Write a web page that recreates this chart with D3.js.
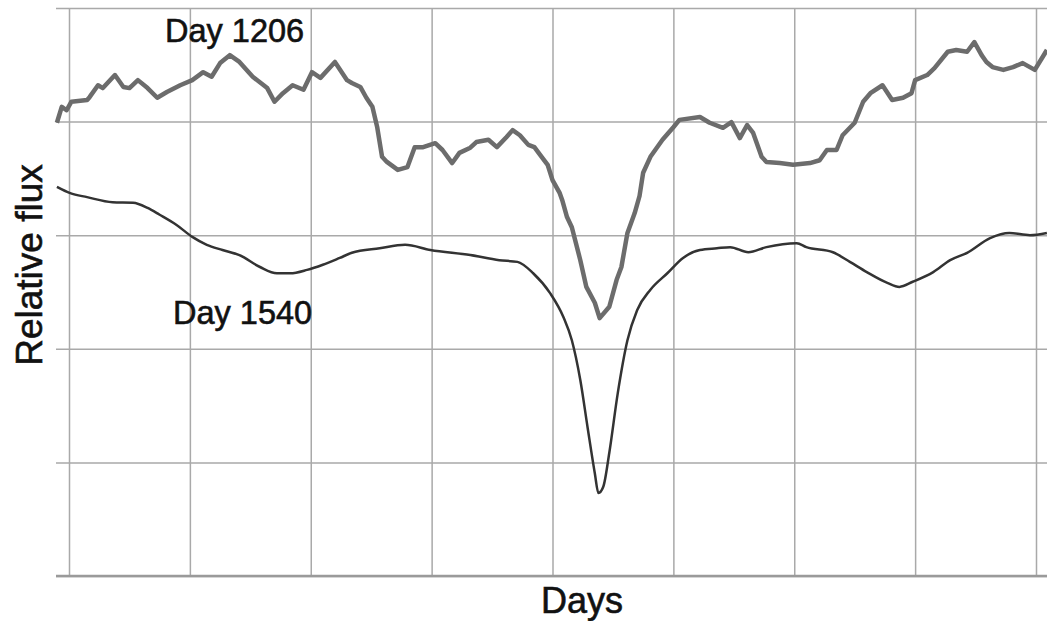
<!DOCTYPE html>
<html>
<head>
<meta charset="utf-8">
<script src="https://cdn.jsdelivr.net/npm/d3@7"></script>
<style>
  body { margin: 0; background: #fff; }
  text { font-family: "Liberation Sans", Arial, sans-serif; fill: #111; stroke: #111; stroke-width: 0.6px; }
</style>
</head>
<body>
<div class="chart"></div>
<script>
// days since start of the window, relative flux (arbitrary units, 0..1)
const day1206Days = [-0.10, -0.06, -0.02, 0.02, 0.15, 0.17, 0.24, 0.28, 0.38, 0.45, 0.50, 0.57, 0.65, 0.73, 0.81, 0.92,
    1.02, 1.11, 1.18, 1.25, 1.33, 1.41, 1.52, 1.64, 1.70, 1.77, 1.85, 1.94, 2.01, 2.08, 2.20, 2.30, 2.34, 2.41, 2.46,
    2.51, 2.55, 2.59, 2.63, 2.72, 2.80, 2.86, 2.93, 3.03, 3.09, 3.17, 3.23, 3.32, 3.37, 3.47, 3.54, 3.62, 3.67, 3.73,
    3.80, 3.85, 3.91, 3.96, 4.00, 4.06, 4.08, 4.12, 4.16, 4.23, 4.28, 4.35, 4.39, 4.47, 4.53, 4.57, 4.62, 4.68, 4.72,
    4.75, 4.81, 4.91, 5.00, 5.05, 5.22, 5.30, 5.41, 5.48, 5.55, 5.61, 5.66, 5.73, 5.77, 5.88, 5.99, 6.13, 6.21, 6.27,
    6.35, 6.40, 6.50, 6.57, 6.63, 6.73, 6.81, 6.90, 6.97, 7.00, 7.10, 7.16, 7.27, 7.34, 7.43, 7.49, 7.55, 7.59, 7.64,
    7.73, 7.81, 7.89, 7.99, 8.09];
const day1206Flux = [0.798, 0.826, 0.820, 0.835, 0.838, 0.843, 0.864, 0.859, 0.882, 0.861, 0.859, 0.873, 0.859, 0.842, 0.852, 0.864,
    0.873, 0.887, 0.879, 0.903, 0.917, 0.905, 0.879, 0.859, 0.835, 0.850, 0.864, 0.856, 0.887, 0.877, 0.905, 0.873, 0.868, 0.861, 0.842,
    0.826, 0.790, 0.738, 0.729, 0.715, 0.720, 0.755, 0.755, 0.762, 0.750, 0.727, 0.745, 0.754, 0.764, 0.768, 0.755, 0.773, 0.785, 0.776,
    0.759, 0.755, 0.738, 0.724, 0.697, 0.674, 0.662, 0.632, 0.614, 0.556, 0.509, 0.481, 0.454, 0.474, 0.521, 0.544, 0.604, 0.639, 0.669,
    0.710, 0.738, 0.768, 0.790, 0.803, 0.808, 0.798, 0.789, 0.799, 0.771, 0.794, 0.780, 0.738, 0.729, 0.727, 0.724, 0.727, 0.732, 0.750,
    0.750, 0.776, 0.798, 0.835, 0.850, 0.864, 0.838, 0.842, 0.850, 0.873, 0.882, 0.894, 0.923, 0.926, 0.923, 0.940, 0.917, 0.905, 0.896,
    0.891, 0.896, 0.903, 0.891, 0.926];

const day1540Days = [-0.10, 0.01, 0.15, 0.36, 0.53, 0.65, 0.75, 0.89, 1.02, 1.14, 1.27, 1.41, 1.58, 1.72, 1.83, 1.97, 2.10,
    2.24, 2.34, 2.57, 2.78, 2.99, 3.32, 3.56, 3.71, 3.84, 3.98, 4.09, 4.16, 4.23, 4.29, 4.35, 4.38, 4.42, 4.47, 4.54,
    4.62, 4.70, 4.81, 4.95, 5.08, 5.22, 5.36, 5.47, 5.62, 5.77, 6.02, 6.10, 6.32, 6.46, 6.60, 6.77, 6.87, 6.98, 7.15,
    7.29, 7.43, 7.62, 7.78, 7.95, 8.09];
const day1540Flux = [0.685, 0.674, 0.667, 0.658, 0.657, 0.648, 0.636, 0.618, 0.597, 0.583, 0.574, 0.565, 0.544, 0.533, 0.533, 0.539, 0.548,
    0.560, 0.569, 0.577, 0.583, 0.574, 0.565, 0.556, 0.553, 0.533, 0.498, 0.456, 0.415, 0.345, 0.262, 0.181, 0.146, 0.157, 0.217, 0.322,
    0.415, 0.468, 0.504, 0.533, 0.560, 0.574, 0.577, 0.579, 0.570, 0.579, 0.586, 0.579, 0.570, 0.553, 0.535, 0.516, 0.509, 0.518, 0.535,
    0.556, 0.569, 0.595, 0.604, 0.600, 0.604];

const dayTicks = [0, 1, 2, 3, 4, 5, 6, 7, 8];
const fluxTicks = [0, 0.2, 0.4, 0.6, 0.8, 1.0];

const width = 1047;
const height = 621;
const margin = {top: 8, left: 69, bottom: 45};
const gridLeft = 56;   // horizontal lines poke out left of the first vertical line

const svg = d3.select(".chart")
    .append("svg")
    .attr("width", width)
    .attr("height", height);

const x = d3.scaleLinear()
    .domain([0, 8])
    .range([margin.left, 1036]);

const y = d3.scaleLinear()
    .domain([0, 1])
    .range([height - margin.bottom, margin.top]);

// horizontal grid
svg.append("g")
    .attr("transform", `translate(${gridLeft}, 0)`)
    .call(d3.axisLeft(y).tickValues(fluxTicks).tickSize(-(width - gridLeft)).tickFormat(""))
    .call(g => g.select(".domain").remove())
    .call(g => g.selectAll("line").attr("stroke", "#a9a9a9").attr("stroke-width", 1.5));

// vertical grid
svg.append("g")
    .attr("transform", `translate(0, ${y(0)})`)
    .call(d3.axisBottom(x).tickValues(dayTicks).tickSize(-(y(0) - y(1))).tickFormat(""))
    .call(g => g.select(".domain").remove())
    .call(g => g.selectAll("line").attr("stroke", "#a9a9a9").attr("stroke-width", 1.5));

// bottom axis line, a bit heavier
svg.append("line")
    .attr("x1", gridLeft)
    .attr("x2", width)
    .attr("y1", y(0))
    .attr("y2", y(0))
    .attr("stroke", "#9a9a9a")
    .attr("stroke-width", 2.5);

const series = [
    {days: day1206Days, flux: day1206Flux, color: "#6c6c6c", w: 4.5, curve: d3.curveLinear},
    {days: day1540Days, flux: day1540Flux, color: "#333333", w: 2.5, curve: d3.curveMonotoneX}
];

series.forEach(s => {
    const pts = s.days.map((d, i) => [d, s.flux[i]]);
    svg.append("path")
        .datum(pts)
        .attr("fill", "none")
        .attr("stroke", s.color)
        .attr("stroke-width", s.w)
        .attr("stroke-linejoin", "round")
        .attr("d", d3.line().x(d => x(d[0])).y(d => y(d[1])).curve(s.curve));
});

// labels on the curves
svg.append("text")
    .attr("x", 165)
    .attr("y", 42)
    .style("font-size", "32.5px")
    .text("Day 1206");

svg.append("text")
    .attr("x", 173)
    .attr("y", 324)
    .style("font-size", "32.5px")
    .text("Day 1540");

// axis titles
svg.append("text")
    .attr("x", 582)
    .attr("y", 613)
    .attr("text-anchor", "middle")
    .style("font-size", "36px")
    .text("Days");

svg.append("text")
    .attr("transform", "translate(42, 265) rotate(-90)")
    .attr("text-anchor", "middle")
    .style("font-size", "37px")
    .text("Relative flux");
</script>
</body>
</html>
